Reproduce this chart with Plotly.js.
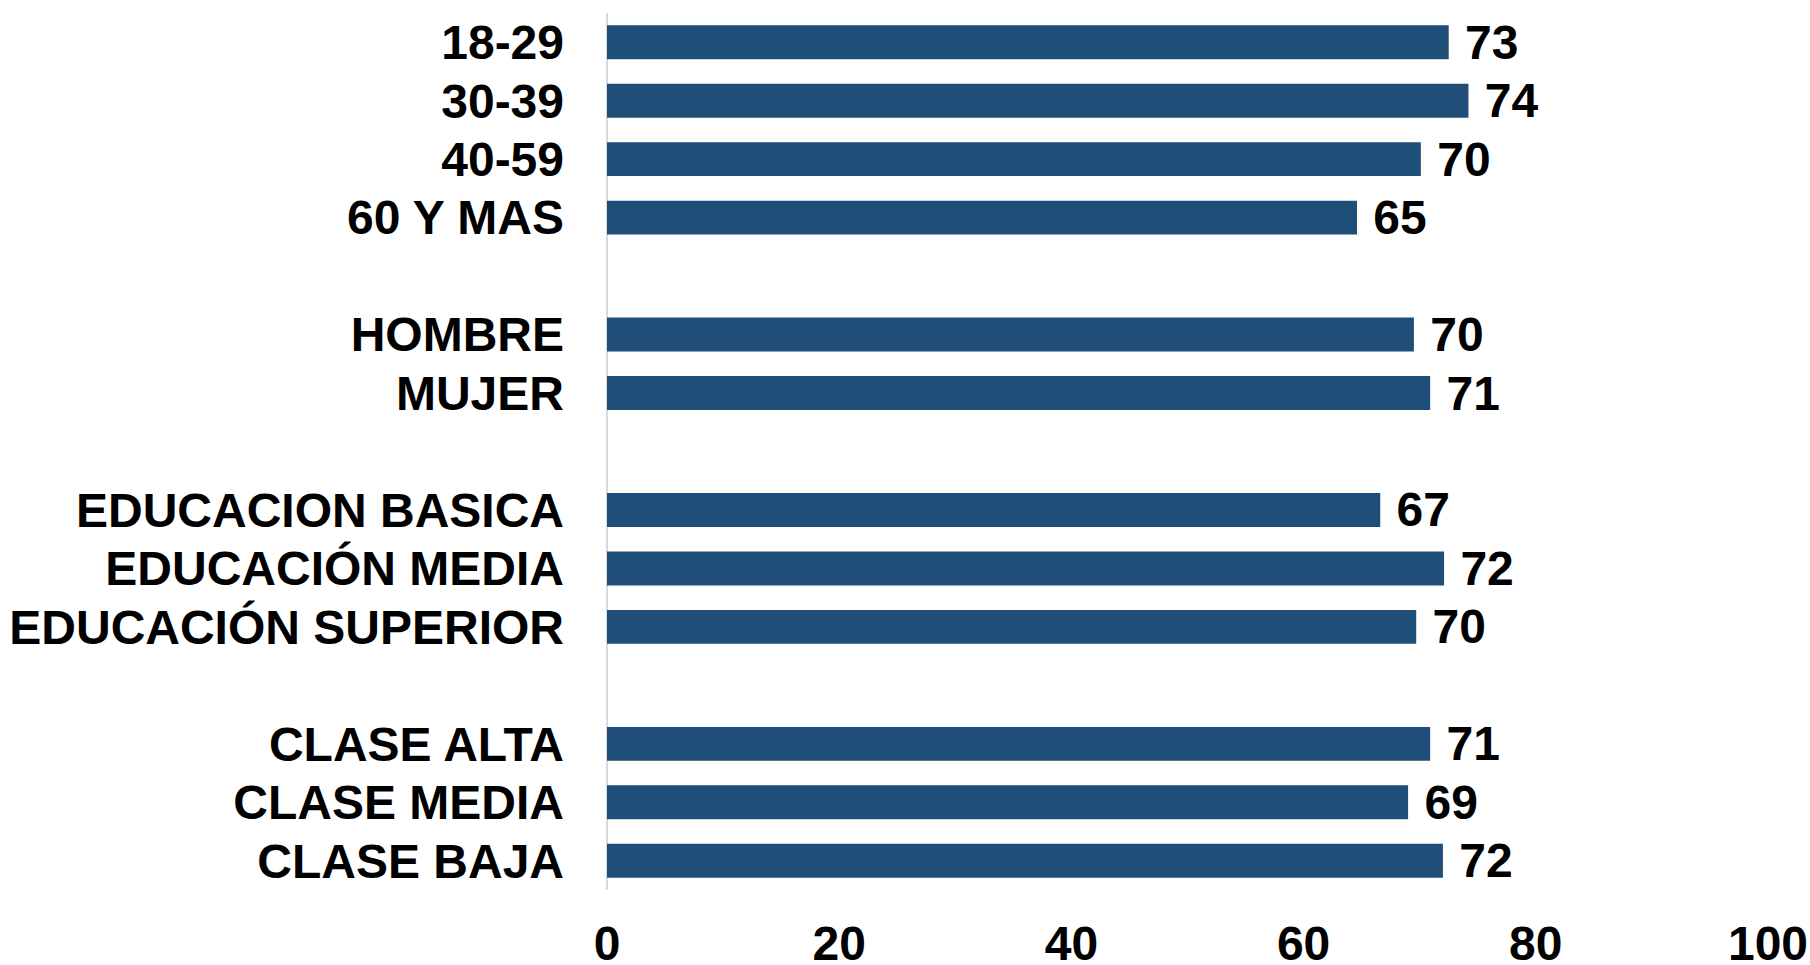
<!DOCTYPE html>
<html>
<head>
<meta charset="utf-8">
<script src="https://cdn.plot.ly/plotly-3.0.1.min.js"></script>
<style>
  html, body { margin: 0; padding: 0; background: #ffffff; }
  #chart { width: 1810px; height: 965px; }
</style>
</head>
<body>
<div id="chart"></div>
<script>
// Categories (blank entries are the gaps between groups)
const categories = [
  "18-29", "30-39", "40-59", "60 Y MAS",
  " ",
  "HOMBRE", "MUJER",
  "  ",
  "EDUCACION BASICA", "EDUCACIÓN MEDIA", "EDUCACIÓN SUPERIOR",
  "   ",
  "CLASE ALTA", "CLASE MEDIA", "CLASE BAJA"
];
// Bar lengths
const values = [
  72.5, 74.2, 70.1, 64.6,
  null,
  69.5, 70.9,
  null,
  66.6, 72.1, 69.7,
  null,
  70.9, 69.0, 72.0
];
// Data labels as printed
const labels = [
  "73", "74", "70", "65",
  "",
  "70", "71",
  "",
  "67", "72", "70",
  "",
  "71", "69", "72"
];
const xTicks = [0, 20, 40, 60, 80, 100];

const FONT = "Liberation Sans, Arial, Helvetica, sans-serif";

const trace = {
  type: "bar",
  orientation: "h",
  y: categories,
  x: values,
  text: labels,
  texttemplate: "\u00a0%{text}",
  textposition: "outside",
  constraintext: "none",
  cliponaxis: false,
  textfont: { family: FONT, size: 48, color: "#000000", weight: "bold" },
  marker: { color: "#1F4E79", line: { width: 0 } },
  hoverinfo: "skip"
};

const layout = {
  width: 1810,
  height: 965,
  margin: { l: 607, r: 42, t: 13, b: 75 },
  paper_bgcolor: "#ffffff",
  plot_bgcolor: "#ffffff",
  bargap: 0.42,
  showlegend: false,
  font: { family: FONT, color: "#000000" },
  xaxis: {
    range: [0, 100],
    tickvals: xTicks,
    ticktext: xTicks.map(String),
    showgrid: false,
    zeroline: true,
    zerolinecolor: "#d9d9d9",
    zerolinewidth: 2,
    showline: false,
    ticks: "",
    ticklabelstandoff: 21,
    tickfont: { family: FONT, size: 48, color: "#000000", weight: "bold" },
    fixedrange: true
  },
  yaxis: {
    type: "category",
    categoryorder: "array",
    categoryarray: categories,
    autorange: "reversed",
    showgrid: false,
    zeroline: false,
    showline: false,
    ticks: "",
    ticklabelstandoff: 42,
    tickfont: { family: FONT, size: 48, color: "#000000", weight: "bold" },
    fixedrange: true
  }
};

Plotly.newPlot("chart", [trace], layout, { displayModeBar: false, staticPlot: true });
</script>
</body>
</html>
